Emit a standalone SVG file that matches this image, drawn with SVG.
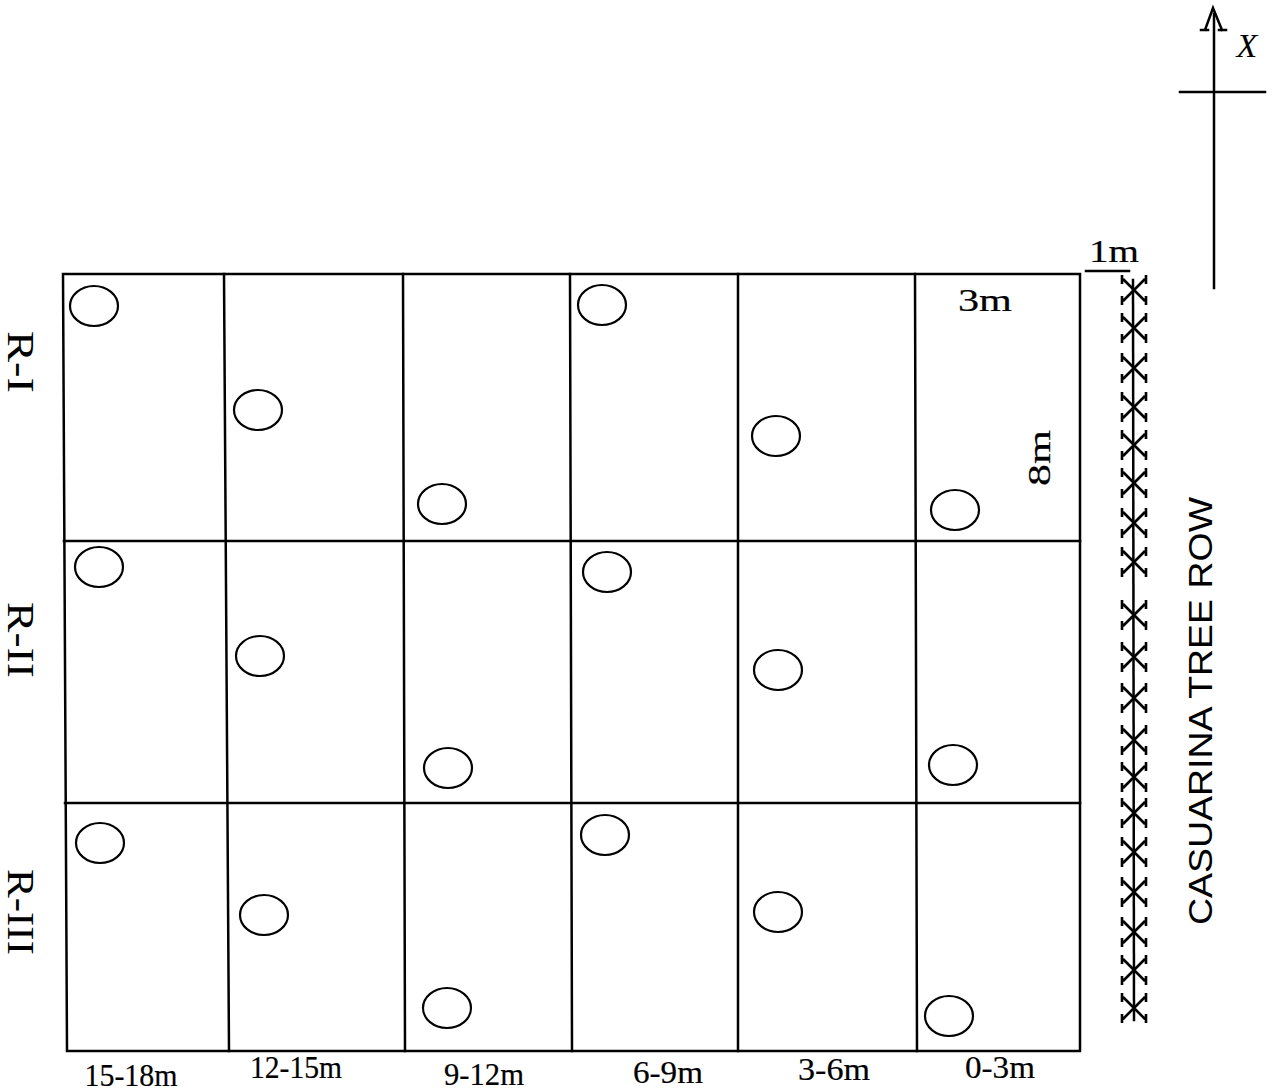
<svg xmlns="http://www.w3.org/2000/svg" width="1274" height="1091" viewBox="0 0 1274 1091">
<style>
.ln{stroke:#000;stroke-width:2.5;fill:none;stroke-linecap:square}
.pit{stroke:#000;stroke-width:2.2;fill:none}
.t{font-family:"Liberation Serif","DejaVu Serif",serif;font-size:31px;fill:#000;stroke:#000;stroke-width:0.2}
.r{font-family:"Liberation Serif","DejaVu Serif",serif;font-size:37px;fill:#000}
.s{font-family:"Liberation Sans","DejaVu Sans",sans-serif;font-size:34px;fill:#000}
.tr{stroke:#000;stroke-width:2.6;fill:none}
</style>
<defs>
<g id="tree">
<path class="tr" d="M-11,-11 L11,11 M-11,11 L11,-11 M-12,-15 V-6 M12,-15 V-6 M-12,6 V15 M12,6 V15"/>
</g>
</defs>
<rect width="1274" height="1091" fill="#fff"/>
<g id="grid">
<path class="ln" d="M63,274 H1080 V1051 H67 Z"/>
<path class="ln" d="M64,541 H1080 M65,803 H1080"/>
<path class="ln" d="M224,274 L229,1051 M403,274 L405,1051 M570,274 L572,1051 M738,274 L738,1051 M915,274 L917,1051"/>
</g>
<g id="pits">
<ellipse class="pit" cx="94" cy="306" rx="24" ry="20"/>
<ellipse class="pit" cx="258" cy="410" rx="24" ry="20"/>
<ellipse class="pit" cx="442" cy="504" rx="24" ry="20"/>
<ellipse class="pit" cx="602" cy="305" rx="24" ry="20"/>
<ellipse class="pit" cx="776" cy="436" rx="24" ry="20"/>
<ellipse class="pit" cx="955" cy="510" rx="24" ry="20"/>
<ellipse class="pit" cx="99" cy="567" rx="24" ry="20"/>
<ellipse class="pit" cx="260" cy="656" rx="24" ry="20"/>
<ellipse class="pit" cx="448" cy="768" rx="24" ry="20"/>
<ellipse class="pit" cx="607" cy="572" rx="24" ry="20"/>
<ellipse class="pit" cx="778" cy="670" rx="24" ry="20"/>
<ellipse class="pit" cx="953" cy="765" rx="24" ry="20"/>
<ellipse class="pit" cx="100" cy="843" rx="24" ry="20"/>
<ellipse class="pit" cx="264" cy="915" rx="24" ry="20"/>
<ellipse class="pit" cx="447" cy="1008" rx="24" ry="20"/>
<ellipse class="pit" cx="605" cy="835" rx="24" ry="20"/>
<ellipse class="pit" cx="778" cy="912" rx="24" ry="20"/>
<ellipse class="pit" cx="949" cy="1016" rx="24" ry="20"/>
</g>
<g id="row-labels">
<text class="r" transform="translate(8,362) rotate(90)" text-anchor="middle" textLength="62" lengthAdjust="spacingAndGlyphs">R-I</text>
<text class="r" transform="translate(8,640) rotate(90)" text-anchor="middle" textLength="76" lengthAdjust="spacingAndGlyphs">R-II</text>
<text class="r" transform="translate(8,912) rotate(90)" text-anchor="middle" textLength="86" lengthAdjust="spacingAndGlyphs">R-III</text>
</g>
<g id="col-labels">
<text class="t" x="131" y="1086" text-anchor="middle" textLength="93" lengthAdjust="spacingAndGlyphs">15-18m</text>
<text class="t" x="296" y="1078" text-anchor="middle" textLength="92" lengthAdjust="spacingAndGlyphs">12-15m</text>
<text class="t" x="484" y="1085" text-anchor="middle" textLength="80" lengthAdjust="spacingAndGlyphs">9-12m</text>
<text class="t" x="668" y="1083" text-anchor="middle" textLength="70" lengthAdjust="spacingAndGlyphs">6-9m</text>
<text class="t" x="834" y="1080" text-anchor="middle" textLength="72" lengthAdjust="spacingAndGlyphs">3-6m</text>
<text class="t" x="1000" y="1078" text-anchor="middle" textLength="70" lengthAdjust="spacingAndGlyphs">0-3m</text>
</g>
<g id="dims">
<text class="t" x="985" y="311" text-anchor="middle" textLength="54" lengthAdjust="spacingAndGlyphs">3m</text>
<text class="t" transform="translate(1050,458) rotate(-90)" text-anchor="middle" textLength="56" lengthAdjust="spacingAndGlyphs">8m</text>
<text class="t" x="1114" y="262" text-anchor="middle" textLength="50" lengthAdjust="spacingAndGlyphs">1m</text>
<path class="ln" d="M1086,271 H1129" stroke-width="2"/>
</g>
<g id="tree-row">
<path class="ln" d="M1133,280 L1134,1020"/>
<use href="#tree" x="1134" y="290"/>
<use href="#tree" x="1134" y="328"/>
<use href="#tree" x="1134" y="368"/>
<use href="#tree" x="1134" y="407"/>
<use href="#tree" x="1134" y="445"/>
<use href="#tree" x="1134" y="483"/>
<use href="#tree" x="1134" y="523"/>
<use href="#tree" x="1134" y="562"/>
<use href="#tree" x="1134" y="615"/>
<use href="#tree" x="1134" y="657"/>
<use href="#tree" x="1134" y="698"/>
<use href="#tree" x="1134" y="740"/>
<use href="#tree" x="1134" y="777"/>
<use href="#tree" x="1134" y="813"/>
<use href="#tree" x="1134" y="852"/>
<use href="#tree" x="1134" y="892"/>
<use href="#tree" x="1134" y="932"/>
<use href="#tree" x="1134" y="970"/>
<use href="#tree" x="1134" y="1008"/>
<text class="s" transform="translate(1212,711) rotate(-90)" text-anchor="middle" textLength="428" lengthAdjust="spacingAndGlyphs">CASUARINA TREE ROW</text>
</g>
<g id="north">
<path class="ln" d="M1214,14 V288 M1180,92 H1265"/>
<path class="ln" d="M1205,30 L1213,8 L1222,30 M1201,30 H1208 M1219,30 H1226" stroke-width="2.4"/>
<text x="1247" y="57" text-anchor="middle" style="font-family:'Liberation Serif','DejaVu Serif',serif;font-style:italic;font-size:34px;fill:#000">X</text>
</g>
</svg>
